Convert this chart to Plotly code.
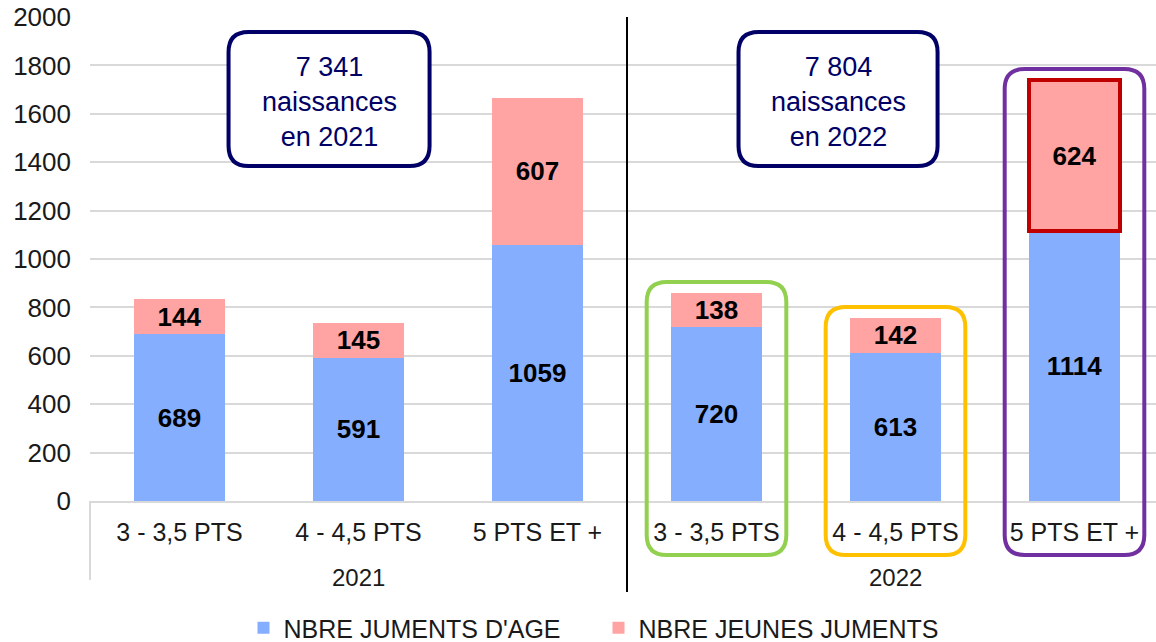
import plotly.graph_objects as go

# ---- data ----
years = ["2021", "2022"]
categories = ["3 - 3,5 PTS", "4 - 4,5 PTS", "5 PTS ET +"]
series_names = ["NBRE JUMENTS D'AGE", "NBRE JEUNES JUMENTS"]
juments_age = [689, 591, 1059, 720, 613, 1114]
jeunes_juments = [144, 145, 607, 138, 142, 624]
naissances = {"2021": "7 341", "2022": "7 804"}
highlighted = [3, 4, 5]  # bars framed in 2022
y_ticks = list(range(0, 2001, 200))

# ---- styling ----
FONT = "Arial, Liberation Sans, sans-serif"
BLUE = "#85AEFF"
PINK = "#FFA3A3"
NAVY = "#000066"
HL_COLORS = ["#92D050", "#FFC000", "#7030A0"]
RED = "#C00000"
GRID = "#D9D9D9"
TXT = "#1a1a1a"

W, H = 1156, 642
ML, MR, MT, MB = 90, 0, 17, 141
plot_w = W - ML - MR
plot_h = H - MT - MB
YMAX = 2000
n = len(juments_age)
px_per_x = 179.0
x_range = [-0.5, -0.5 + plot_w / px_per_x]
px_per_y = plot_h / YMAX

xs = list(range(n))
cat_labels = categories * len(years)

fig = go.Figure()
fig.add_trace(go.Bar(
    x=xs, y=juments_age, name=series_names[0], width=0.51,
    marker=dict(color=BLUE, line=dict(width=0)),
    text=[str(v) for v in juments_age], textposition="inside",
    insidetextanchor="middle", constraintext="none", textangle=0,
    textfont=dict(family=FONT, size=26, color="black", weight="bold"),
))
fig.add_trace(go.Bar(
    x=xs, y=jeunes_juments, name=series_names[1], width=0.51,
    marker=dict(color=PINK,
                line=dict(width=[4 if i == n - 1 else 0 for i in range(n)],
                          color=[RED if i == n - 1 else PINK for i in range(n)])),
    text=[str(v) for v in jeunes_juments], textposition="inside",
    insidetextanchor="middle", constraintext="none", textangle=0,
    textfont=dict(family=FONT, size=26, color="black", weight="bold"),
))


def rounded(x0, x1, y0, y1, rx, ry):
    return (f"M {x0+rx},{y0} L {x1-rx},{y0} Q {x1},{y0} {x1},{y0+ry} "
            f"L {x1},{y1-ry} Q {x1},{y1} {x1-rx},{y1} L {x0+rx},{y1} "
            f"Q {x0},{y1} {x0},{y1-ry} L {x0},{y0+ry} Q {x0},{y0} {x0+rx},{y0} Z")


shapes = []
# left gray divider of category axis
shapes.append(dict(type="line", xref="paper", yref="paper", x0=0, x1=0,
                   y0=0, y1=-79 / plot_h, line=dict(color=GRID, width=2)))
# black separator between years
shapes.append(dict(type="line", xref="x", yref="paper", x0=2.5, x1=2.5,
                   y0=1, y1=-91 / plot_h, line=dict(color="black", width=2), layer="above"))

# highlight boxes around 2022 bars
r_px = 20
for idx, col in zip(highlighted, HL_COLORS):
    total = juments_age[idx] + jeunes_juments[idx]
    top = (total + 47) / YMAX
    bottom = -54 / plot_h
    shapes.append(dict(type="path", xref="x", yref="paper", layer="above",
                       path=rounded(idx - 0.39, idx + 0.39, bottom, top,
                                    r_px / px_per_x, r_px / plot_h),
                       line=dict(color=col, width=4)))

# naissances boxes
box_specs = {"2021": (0.274, 1.397), "2022": (3.123, 4.235)}
ann = []
for yr in years:
    bx0, bx1 = box_specs[yr]
    shapes.append(dict(type="path", xref="x", yref="y", layer="above",
                       path=rounded(bx0, bx1, 1384, 1938,
                                    20 / px_per_x, 20 / px_per_y),
                       fillcolor="white", line=dict(color=NAVY, width=4)))
    ann.append(dict(xref="x", yref="y", x=(bx0 + bx1) / 2, y=1650,
                    text=f"{naissances[yr]}<br>naissances<br>en {yr}",
                    showarrow=False, align="center",
                    font=dict(family=FONT, size=27, color=NAVY)))

# year labels
for gi, yr in enumerate(years):
    ann.append(dict(xref="x", yref="paper", x=gi * len(categories) + 1, y=-76 / plot_h,
                    yanchor="middle", text=yr, showarrow=False,
                    font=dict(family=FONT, size=24, color=TXT)))

fig.update_layout(
    width=W, height=H,
    margin=dict(l=ML, r=MR, t=MT, b=MB, pad=0, autoexpand=False),
    barmode="stack",
    plot_bgcolor="white", paper_bgcolor="white",
    font=dict(family=FONT, color=TXT),
    shapes=shapes, annotations=ann,
    showlegend=True,
    legend=dict(orientation="h", x=0.477, xanchor="center",
                y=-127 / plot_h, yanchor="middle", traceorder="normal",
                entrywidth=310, entrywidthmode="pixels",
                font=dict(family=FONT, size=25, color=TXT),
                itemclick=False),
    hovermode=False,
)
fig.update_xaxes(range=x_range, tickvals=xs, ticktext=cat_labels,
                 showgrid=False, zeroline=False, showline=True,
                 linecolor=GRID, linewidth=2, ticks="",
                 tickfont=dict(family=FONT, size=25, color=TXT),
                 ticklabelstandoff=8)
fig.update_yaxes(range=[0, YMAX], tickvals=y_ticks, showgrid=True,
                 gridcolor=GRID, gridwidth=2, zeroline=False, showline=False,
                 ticks="", tickfont=dict(family=FONT, size=26, color=TXT),
                 ticklabelstandoff=18)

fig.write_html("out.html", config={"displayModeBar": False},
               post_script="document.body.style.margin='0';document.body.style.overflow='hidden';")
